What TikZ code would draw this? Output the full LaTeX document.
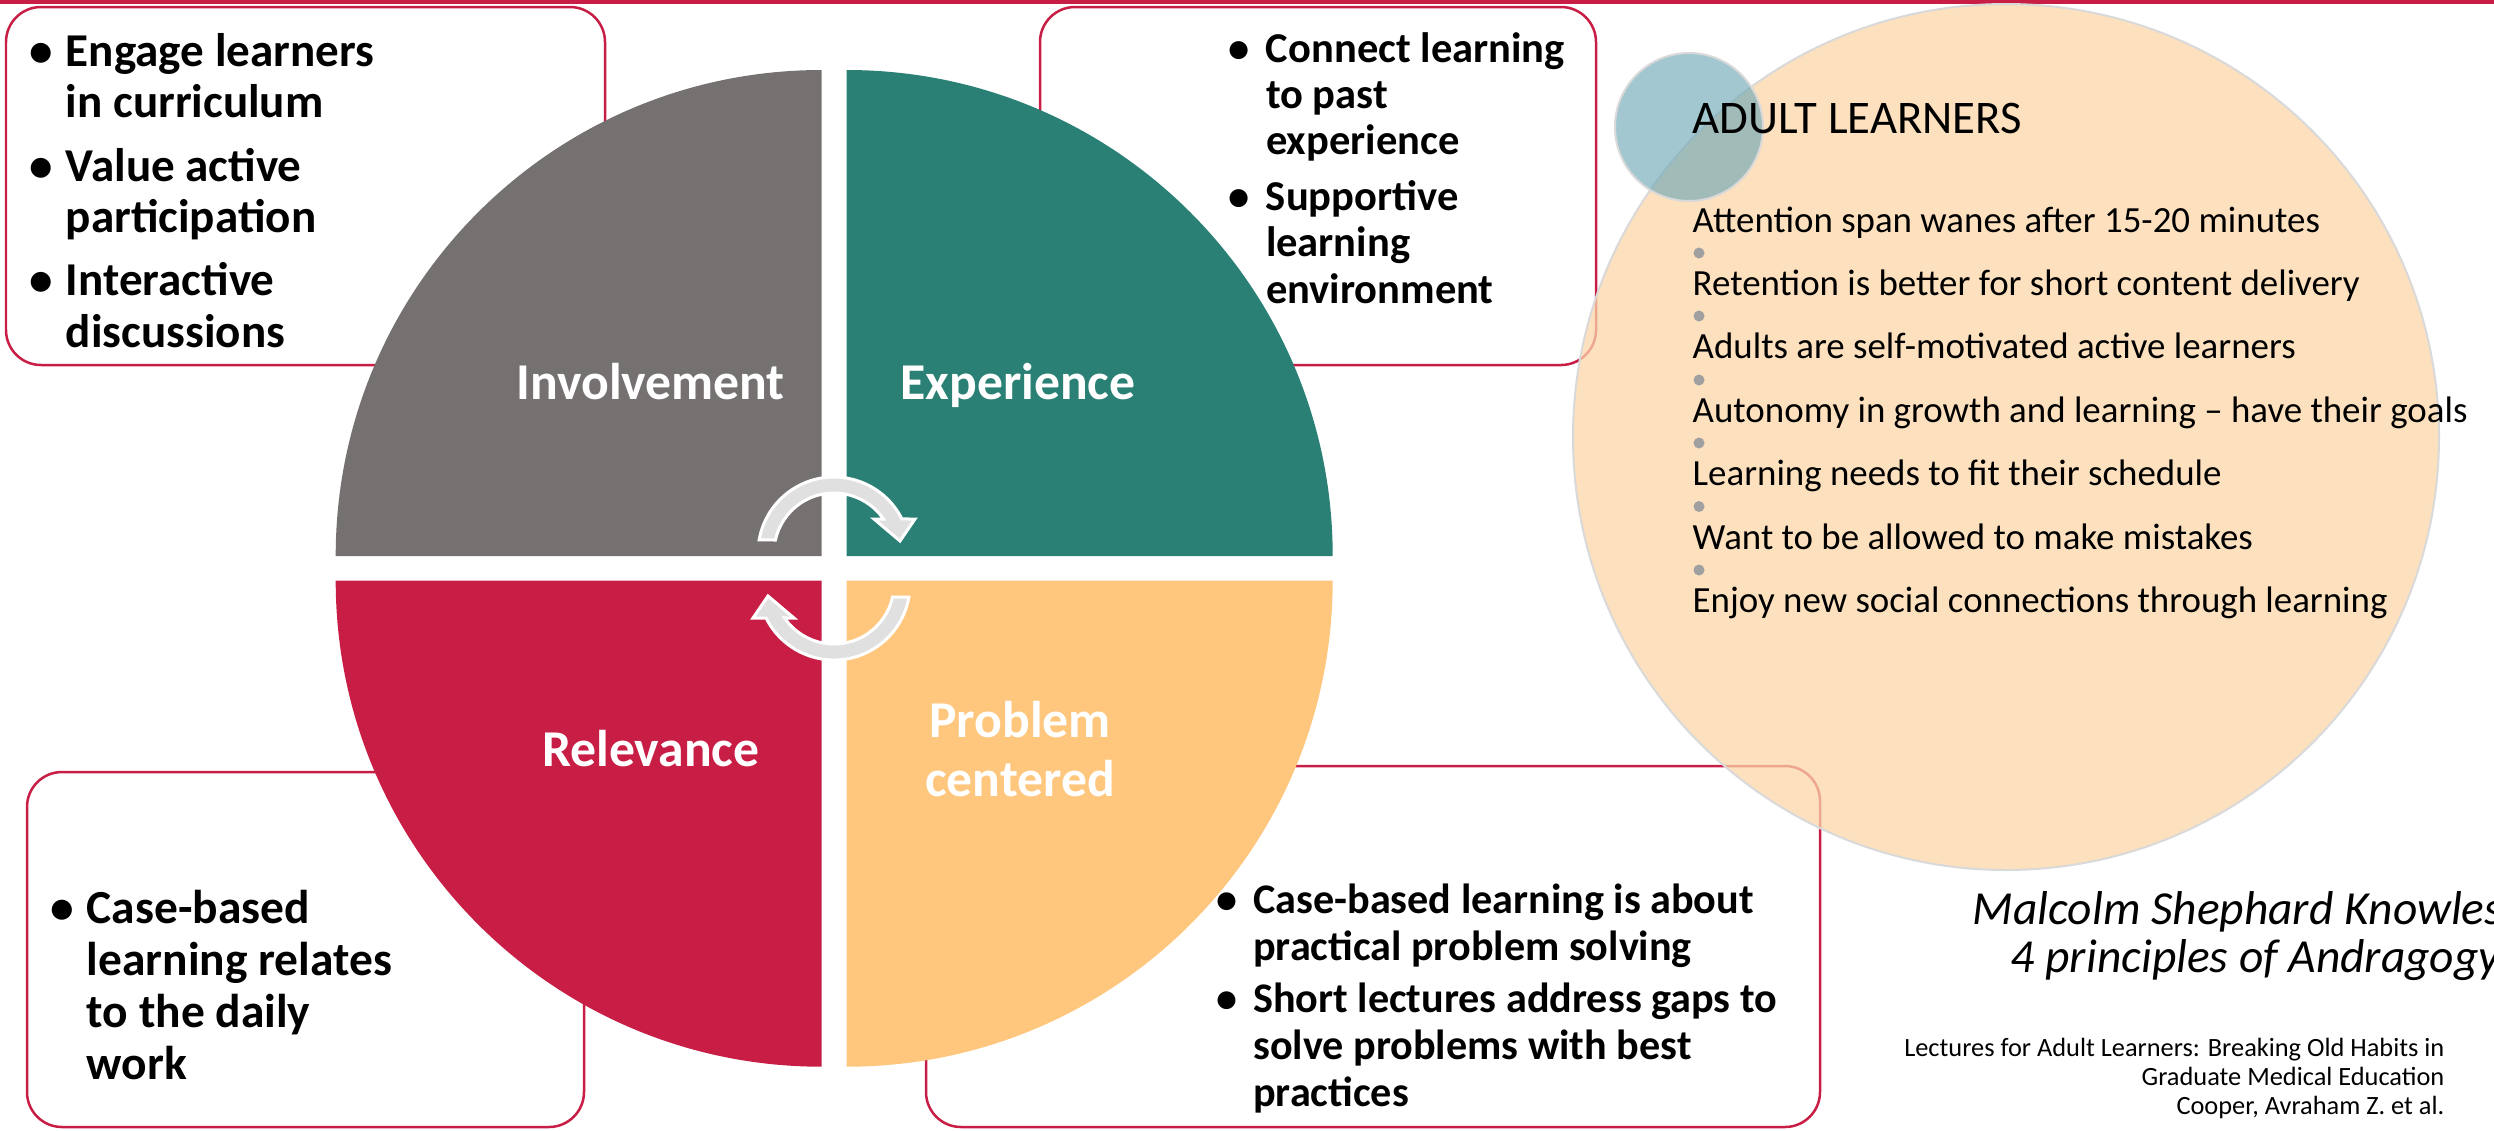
\documentclass[tikz,border=0pt]{standalone}
\usepackage{fontspec}
\setmainfont{Carlito}
\usetikzlibrary{calc}
\definecolor{crim}{RGB}{200,30,70}
\definecolor{qgray}{RGB}{118,113,113}
\definecolor{qteal}{RGB}{42,128,116}
\definecolor{qpeach}{RGB}{255,198,125}
\definecolor{bigpeach}{RGB}{252,214,168}
\definecolor{smallblue}{RGB}{113,169,183}
\definecolor{arrowgray}{RGB}{224,224,224}
\definecolor{outlinegray}{RGB}{217,217,217}
\definecolor{dotgray}{RGB}{160,160,160}
\newcommand{\cycarrowpath}{($(834,553)+(-170:76)$) arc[start angle=-170, end angle=-26.6, radius=76] -- (915,519) -- (900,541) -- (874,519) -- ($(834,553)+(-34.5:60)$) arc[start angle=-34.5, end angle=-167.5, radius=60] -- cycle}
\newcommand{\bulmark}{\makebox[0pt][c]{•}}
\begin{document}
\begin{tikzpicture}[x=0.1mm,y=-0.1mm,
  infobox/.style={draw=crim, line width=0.25mm, rounded corners=3.5mm},
  qlabel/.style={text=white, inner sep=0, anchor=base, font=\fontsize{14.7pt}{16.8pt}\selectfont\bfseries},
  bultext/.style={inner sep=0, anchor=base west},
  cyc/.style={fill=arrowgray, draw=white, line width=0.3mm, line join=miter},
  softcircle/.style={draw=outlinegray, line width=0.2mm}
]
\useasboundingbox (0,0) rectangle (2494,1130);
% top rule
\fill[crim] (0,0) rectangle (2494,4);
% text boxes
\draw[infobox] (6,7) rectangle (605,365);
\draw[infobox] (1040,7) rectangle (1596,365);
\draw[infobox] (27,772) rectangle (584,1127);
\draw[infobox] (926,766) rectangle (1820,1127);
% box texts
\node[bultext, font=\fontsize{13.4pt}{14.65pt}\selectfont\bfseries] (tinv) at (40.4,66.5)
 {\begin{tabular}[t]{@{}p{2.48mm}@{}l@{}}
  \bulmark& Engage learners\\ & in curriculum\\[3.3pt]
  \bulmark& Value active\\ & participation\\[3.3pt]
  \bulmark& Interactive\\ & discussions
 \end{tabular}};
\node[bultext, font=\fontsize{12.1pt}{13.2pt}\selectfont\bfseries] (texp) at (1238.6,62)
 {\begin{tabular}[t]{@{}p{2.67mm}@{}l@{}}
  \bulmark& Connect learning\\ & to past\\ & experience\\[2.6pt]
  \bulmark& Supportive\\ & learning\\ & environment
 \end{tabular}};
\node[bultext, font=\fontsize{13.5pt}{14.88pt}\selectfont\bfseries] (trel) at (61.3,923)
 {\begin{tabular}[t]{@{}p{2.49mm}@{}l@{}}
  \bulmark& Case-based\\ & learning relates\\ & to the daily\\ & work
 \end{tabular}};
\node[bultext, font=\fontsize{12pt}{13.37pt}\selectfont\bfseries] (tprob) at (1226.6,913)
 {\begin{tabular}[t]{@{}p{2.6mm}@{}l@{}}
  \bulmark& Case-based learning is about\\ & practical problem solving\\[1.7pt]
  \bulmark& Short lectures address gaps to\\ & solve problems with best\\ & practices
 \end{tabular}};
% quadrants
\fill[qgray] (821.7,556) -- (821.7,70) arc[start angle=-90, end angle=-180, radius=486] -- cycle;
\fill[qteal] (846.7,556) -- (846.7,70) arc[start angle=-90, end angle=0, radius=486] -- cycle;
\fill[crim] (821.7,580.7) -- (335.7,580.7) arc[start angle=180, end angle=90, radius=486] -- cycle;
\fill[qpeach] (846.7,580.7) -- (1332.7,580.7) arc[start angle=0, end angle=90, radius=486] -- cycle;
% quadrant labels
\node[qlabel] (linv) at (650.6,399) {Involvement};
\node[qlabel] (lexp) at (1018,399) {Experience};
\node[qlabel] (lrel) at (650.7,766.7) {Relevance};
\node[qlabel] (lprob) at (1020,737) {\begin{tabular}[t]{@{}c@{}}Problem\\centered\end{tabular}};
% cycle arrows
\path[cyc] \cycarrowpath;
\begin{scope}[rotate around={180:(834,568.5)}]
\path[cyc] \cycarrowpath;
\end{scope}
% adult learners circles
\draw[softcircle, fill=bigpeach, fill opacity=0.75] (2006,437) circle[radius=433];
\draw[softcircle, fill=smallblue, fill opacity=0.65] (1689,127) circle[radius=74];
\node[anchor=base west, inner sep=0, font=\fontsize{13.3pt}{16pt}\selectfont] (title) at (1692,133) {ADULT LEARNERS};
\node[anchor=base west, inner sep=0, font=\fontsize{10.5pt}{18.04pt}\selectfont] (items) at (1692,232)
 {\begin{tabular}[t]{@{}l@{}}
  Attention span wanes after 15-20 minutes\\
  Retention is better for short content delivery\\
  Adults are self-motivated active learners\\
  Autonomy in growth and learning – have their goals\\
  Learning needs to fit their schedule\\
  Want to be allowed to make mistakes\\
  Enjoy new social connections through learning
 \end{tabular}};
\foreach \yy in {253,316,380,443,506.5,570} \fill[dotgray] (1699,\yy) circle[radius=5.5];
% bottom right
\node[anchor=base west, inner sep=0, font=\fontsize{13.5pt}{13.7pt}\selectfont\itshape] (knowles) at (1972,924)
 {\begin{tabular}[t]{@{}l@{}}Malcolm Shephard Knowles\\\hspace{3.8mm}4 principles of Andragogy\end{tabular}};
\node[anchor=base east, inner sep=0, font=\fontsize{7.5pt}{8.25pt}\selectfont] (cite) at (2445,1056)
 {\begin{tabular}[t]{@{}r@{}}Lectures for Adult Learners: Breaking Old Habits in\\Graduate Medical Education\\Cooper, Avraham Z. et al.\end{tabular}};
\end{tikzpicture}
\end{document}
